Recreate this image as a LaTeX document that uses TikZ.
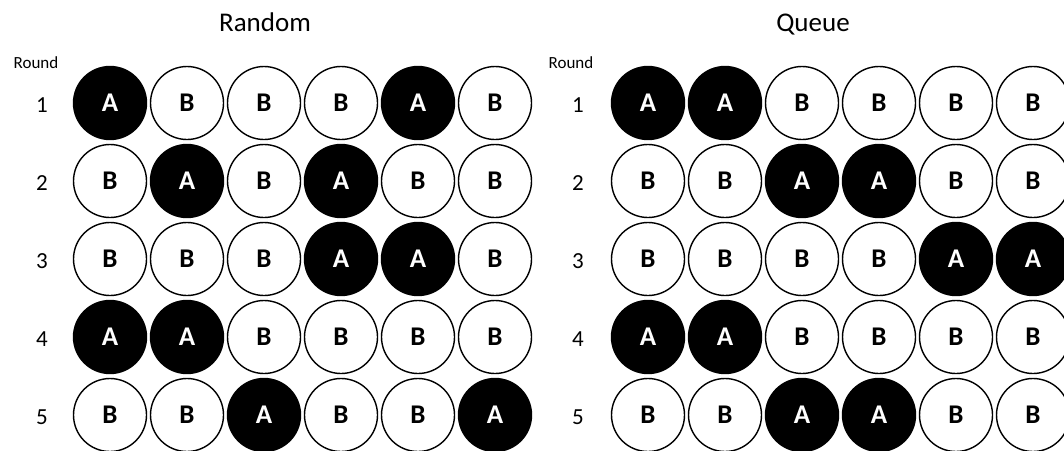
\documentclass[tikz,border=0pt]{standalone}
\usepackage{fontspec}
\setmainfont{Carlito}
\usetikzlibrary{positioning}

\def\cellA{A}

\begin{document}
\begin{tikzpicture}[
  x=1pt,y=-1pt,
  cell/.style={circle,draw=black,line width=1.4pt,minimum size=73pt,inner sep=0pt,font=\fontsize{27}{29}\selectfont\bfseries},
  acell/.style={cell,fill=black,text=white},
  bcell/.style={cell,fill=white,text=black},
  title/.style={font=\fontsize{27}{30}\selectfont,anchor=base},
  rlabel/.style={font=\fontsize{17}{19}\selectfont,anchor=base},
  rnum/.style={font=\fontsize{23}{25}\selectfont,anchor=base},
]
\useasboundingbox (0,0) rectangle (1064,450);

%% ---------------------------------------------------------------- titles
\node[title] (ttlrnd) at (265,31) {Random};
\node[title] (ttlque) at (813,31) {Queue};
\node[rlabel] (rndlbl) at (36,68) {Round};
\node[rlabel] (quelbl) at (571,68) {Round};

%% ---------------------------------------------------------------- random
\foreach \row [count=\ri] in {{A,B,B,B,A,B},{B,A,B,A,B,B},{B,B,B,A,A,B},{A,A,B,B,B,B},{B,B,A,B,B,A}}{
  \node[rnum] (rnd-n\ri) at (42,{112+78*(\ri-1)}) {\ri};
  \foreach \lt [count=\ci] in \row{
    \ifx\lt\cellA\def\cs{acell}\else\def\cs{bcell}\fi
    \node[\cs] (rnd-\ri-\ci) at ({110+77*(\ci-1)},{103+78*(\ri-1)}) {\lt};
  }
}

%% ----------------------------------------------------------------- queue
\foreach \row [count=\ri] in {{A,A,B,B,B,B},{B,B,A,A,B,B},{B,B,B,B,A,A},{A,A,B,B,B,B},{B,B,A,A,B,B}}{
  \node[rnum] (que-n\ri) at (578,{112+78*(\ri-1)}) {\ri};
  \foreach \lt [count=\ci] in \row{
    \ifx\lt\cellA\def\cs{acell}\else\def\cs{bcell}\fi
    \node[\cs] (que-\ri-\ci) at ({648+77*(\ci-1)},{103+78*(\ri-1)}) {\lt};
  }
}

\end{tikzpicture}
\end{document}
